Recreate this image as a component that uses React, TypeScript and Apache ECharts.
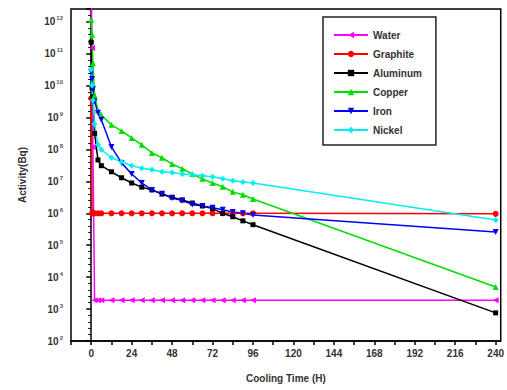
import React, { useEffect, useRef } from "react";
import * as echarts from "echarts";

const hours = [0, 0.5, 1, 2, 4, 6, 12, 18, 24, 30, 36, 42, 48, 54, 60, 66, 72, 78, 84, 90, 96, 240];

const water = [1e13, 1.5e11, 1.2e8, 1.9e3, 1.9e3, 1.9e3, 1.9e3, 1.9e3, 1.9e3, 1.9e3, 1.9e3, 1.9e3, 1.9e3, 1.9e3, 1.9e3, 1.9e3, 1.9e3, 1.9e3, 1.9e3, 1.9e3, 1.9e3, 1.9e3];
const graphite = [4e9, 1.0e6, 1.0e6, 1.0e6, 1.0e6, 1.0e6, 1.0e6, 1.0e6, 1.0e6, 1.0e6, 1.0e6, 1.0e6, 1.0e6, 1.0e6, 1.0e6, 1.0e6, 1.0e6, 1.0e6, 1.0e6, 1.0e6, 1.0e6, 9.6e5];
const aluminum = [2.3e11, 8.5e9, 4.5e9, 3.2e8, 4.7e7, 3.1e7, 2.0e7, 1.3e7, 8.9e6, 6.6e6, 5.4e6, 4.0e6, 3.2e6, 2.6e6, 2.1e6, 1.7e6, 1.4e6, 1.0e6, 7.8e5, 5.8e5, 4.4e5, 7.6e2];
const copper = [1.15e12, 3.9e11, 5e10, 5e9, 1.7e9, 1.2e9, 5.9e8, 3.8e8, 2.3e8, 1.4e8, 7.8e7, 5.5e7, 3.5e7, 2.5e7, 1.7e7, 1.2e7, 8.9e6, 6.8e6, 4.7e6, 3.8e6, 2.8e6, 4.9e3];
const iron = [2.7e10, 1.6e10, 7.9e9, 3.2e9, 1.4e9, 8.5e8, 1.2e8, 3.8e7, 1.7e7, 8.9e6, 5.4e6, 4.1e6, 3.0e6, 2.5e6, 1.9e6, 1.7e6, 1.5e6, 1.3e6, 1.1e6, 1.0e6, 8.9e5, 2.6e5];
const nickel = [3.2e10, 1.0e10, 3.5e9, 6.3e8, 1.4e8, 9.8e7, 5.5e7, 4.1e7, 3.1e7, 2.6e7, 2.3e7, 2.0e7, 1.9e7, 1.7e7, 1.6e7, 1.5e7, 1.4e7, 1.2e7, 1.05e7, 9.5e6, 8.9e6, 6.2e5];

const xTicks = [0, 24, 48, 72, 96, 120, 144, 168, 192, 216, 240];
const yExponents = [2, 3, 4, 5, 6, 7, 8, 9, 10, 11, 12];

const seriesDefs = [
  { name: "Water", values: water, color: "#ff00ff", symbol: "triangle", rotate: 90 },
  { name: "Graphite", values: graphite, color: "#ff0000", symbol: "circle", rotate: 0 },
  { name: "Aluminum", values: aluminum, color: "#000000", symbol: "rect", rotate: 0 },
  { name: "Copper", values: copper, color: "#00dd00", symbol: "triangle", rotate: 0 },
  { name: "Iron", values: iron, color: "#0000ff", symbol: "triangle", rotate: 180 },
  { name: "Nickel", values: nickel, color: "#00eeee", symbol: "diamond", rotate: 0 },
];

const FONT = "Liberation Sans";

export default function App() {
  const ref = useRef<HTMLDivElement>(null);
  useEffect(() => {
    if (!ref.current) return;
    const chart = echarts.init(ref.current, null, { renderer: "svg" });
    chart.setOption({
      animation: false,
      backgroundColor: "#ffffff",
      grid: {
        left: 71,
        right: 2,
        top: 9,
        bottom: 49,
        show: true,
        borderColor: "#000",
        borderWidth: 1.5,
        backgroundColor: "transparent",
      },
      legend: {
        orient: "vertical",
        left: 323,
        top: 17,
        padding: [13, 14, 10, 10],
        itemWidth: 34,
        itemHeight: 8,
        itemGap: 9,
        borderColor: "#222",
        borderWidth: 1.5,
        backgroundColor: "#fff",
        textStyle: { fontFamily: FONT, fontSize: 10, fontWeight: "bold", color: "#333" },
        data: seriesDefs.map((s) => s.name),
      },
      xAxis: {
        type: "value",
        min: -12,
        max: 243,
        interval: 12,
        name: "Cooling Time (H)",
        nameLocation: "middle",
        nameGap: 32,
        nameTextStyle: { fontFamily: FONT, fontSize: 10, fontWeight: "bold", color: "#333" },
        axisLine: { show: true, lineStyle: { color: "#000", width: 1.5 } },
        axisTick: { show: true, length: 4, lineStyle: { color: "#000", width: 1.5 } },
        splitLine: { show: false },
        axisLabel: {
          margin: 7,
          fontFamily: FONT,
          fontSize: 10,
          fontWeight: "bold",
          color: "#333",
          showMaxLabel: false,
          formatter: (v: number) => (xTicks.includes(v) ? String(v) : ""),
        },
      },
      yAxis: {
        type: "value",
        min: 2,
        max: 12.4,
        interval: 1,
        name: "Activity(Bq)",
        nameLocation: "middle",
        nameGap: 44,
        nameTextStyle: { fontFamily: FONT, fontSize: 10, fontWeight: "bold", color: "#333" },
        axisLine: { show: true, lineStyle: { color: "#000", width: 1.5 } },
        axisTick: { show: true, length: 5, lineStyle: { color: "#000", width: 1.5 } },
        minorTick: { show: true, splitNumber: 5, length: 3, lineStyle: { color: "#000", width: 1 } },
        splitLine: { show: false },
        axisLabel: {
          margin: 8,
          showMaxLabel: false,
          formatter: (v: number) =>
            yExponents.includes(Math.round(v * 1000) / 1000) ? `{b|10}{s|${v}}` : "",
          rich: {
            b: { fontFamily: FONT, fontSize: 10, fontWeight: "bold", color: "#333" },
            s: { fontFamily: FONT, fontSize: 6, fontWeight: "bold", color: "#555", padding: [0, 0, 7, 1] },
          },
        },
      },
      series: seriesDefs.map((s) => ({
        name: s.name,
        type: "line",
        data: hours.map((h, i) => [h, Math.log10(s.values[i])]),
        symbol: s.symbol,
        symbolRotate: s.rotate,
        symbolSize: s.symbol === "rect" ? 5 : 6,
        showAllSymbol: true,
        clip: true,
        itemStyle: { color: s.color },
        lineStyle: { color: s.color, width: 1.5 },
      })),
    });
    return () => chart.dispose();
  }, []);
  return <div ref={ref} style={{ position: "fixed", left: 0, top: 0, width: 507, height: 390 }} />;
}
